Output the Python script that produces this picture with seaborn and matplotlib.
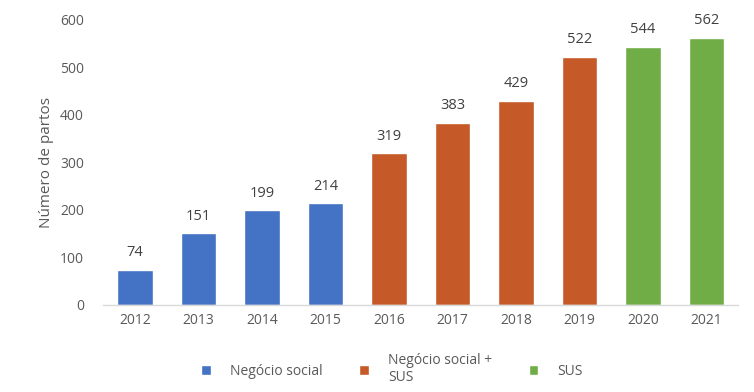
import matplotlib
matplotlib.use("Agg")
import matplotlib.pyplot as plt
import seaborn as sns
import pandas as pd

years = ["2012", "2013", "2014", "2015", "2016", "2017", "2018", "2019", "2020", "2021"]
values = [74, 151, 199, 214, 319, 383, 429, 522, 544, 562]
groups = ["Negócio social"] * 4 + ["Negócio social +\nSUS"] * 4 + ["SUS"] * 2
group_order = ["Negócio social", "Negócio social +\nSUS", "SUS"]
colors = ["#4472C4", "#C55A28", "#70AD47"]

df = pd.DataFrame({"Ano": years, "Partos": values, "Grupo": groups})

sns.set_theme(style="white")
plt.rcParams["font.family"] = ["Open Sans", "DejaVu Sans"]
text_color = "#595959"

fig = plt.figure(figsize=(7.54, 3.92), dpi=100)
ax = fig.add_axes([0.137, 0.222, 0.842, 0.727])
sns.barplot(data=df, x="Ano", y="Partos", hue="Grupo", hue_order=group_order,
            palette=colors, dodge=False, width=0.56, ax=ax, legend=True,
            saturation=1)

for cont in ax.containers:
    labels = [f"{int(v.get_height())}" if v.get_height() > 0 else "" for v in cont]
    ax.bar_label(cont, labels=labels, padding=7, fontsize=10.5, color="#404040")

ax.set_ylim(0, 600)
ax.set_xlim(-0.5, 9.5)
ax.set_yticks(range(0, 601, 100))
ax.set_xlabel("")
ax.set_ylabel("Número de partos", fontsize=11, color=text_color)
ax.tick_params(axis="both", labelsize=10, colors=text_color, length=0)
ax.tick_params(axis="y", pad=14)
ax.tick_params(axis="x", pad=6)
for s in ["top", "right", "left"]:
    ax.spines[s].set_visible(False)
ax.spines["bottom"].set_color("#D9D9D9")
ax.spines["bottom"].set_linewidth(1.0)

handles, labs = ax.get_legend_handles_labels()
ax.legend(handles, labs, loc="center", bbox_to_anchor=(0.455, -0.225), ncol=3,
          frameon=False, fontsize=10, handlelength=0.7, handleheight=0.7,
          columnspacing=2.6, handletextpad=1.4, labelcolor=text_color)

fig.savefig("out.png", dpi=100)
